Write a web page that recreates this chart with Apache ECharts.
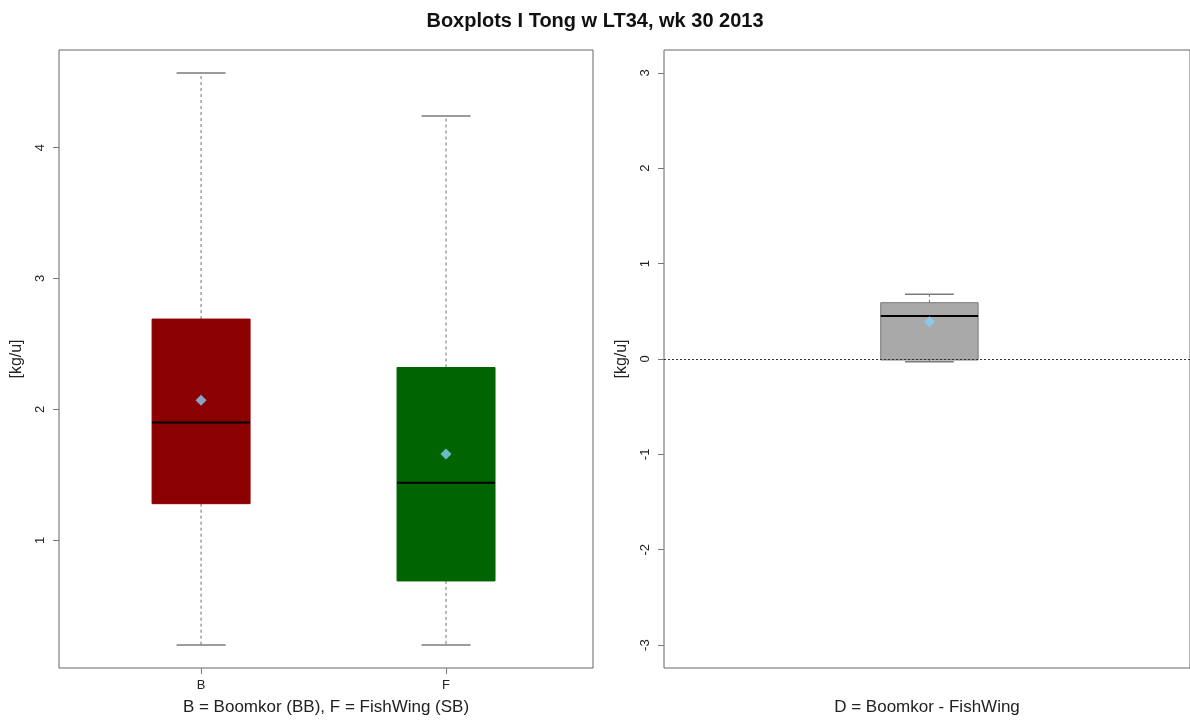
<!DOCTYPE html>
<html>
<head>
<meta charset="utf-8">
<script src="https://cdn.jsdelivr.net/npm/echarts@6/dist/echarts.min.js"></script>
<style>
  html, body { margin: 0; padding: 0; background: #fff; }
  #chart { width: 1190px; height: 722px; }
</style>
</head>
<body>
<div id="chart"></div>
<script>
// Catch per gear (kg/u), week 30 2013
const groupLabels = ['B', 'F'];
const groupPositions = [1, 2];
const whiskerLow = [0.20, 0.20];
const quartile1 = [1.28, 0.69];
const medians = [1.90, 1.44];
const quartile3 = [2.69, 2.32];
const whiskerHigh = [4.57, 4.24];
const means = [2.07, 1.66];

// Difference Boomkor - FishWing
const diffPositions = [1];
const diffWhiskerLow = [-0.03];
const diffQuartile1 = [-0.01];
const diffMedian = [0.45];
const diffQuartile3 = [0.59];
const diffWhiskerHigh = [0.68];
const diffMean = [0.39];

const leftTicks = [1, 2, 3, 4];
const rightTicks = [-3, -2, -1, 0, 1, 2, 3];

const boxFills = ['#8b0000', '#006400'];
const diffFill = '#a9a9a9';
const textColor = '#222';
const font = 'Liberation Sans, Arial, sans-serif';

function boxRows(pos, lo, q1, med, q3, hi) {
  return pos.map((p, i) => [p, lo[i], q1[i], med[i], q3[i], hi[i]]);
}

function makeBoxRenderer(boxHalf, capHalf, fills, borders) {
  return function (params, api) {
    const x = api.value(0);
    const lo = api.coord([x, api.value(1)]);
    const q1 = api.coord([x, api.value(2)]);
    const med = api.coord([x, api.value(3)]);
    const q3 = api.coord([x, api.value(4)]);
    const hi = api.coord([x, api.value(5)]);
    const bw = api.size([boxHalf, 0])[0];
    const cw = api.size([capHalf, 0])[0];
    const cx = q1[0];
    const fill = fills[params.dataIndex % fills.length];
    const border = borders[params.dataIndex % borders.length];
    const whisker = { stroke: '#6e6e6e', lineWidth: 1, lineDash: [3, 3] };
    const cap = { stroke: '#7a7a7a', lineWidth: 1.5 };
    return {
      type: 'group',
      children: [
        { type: 'line', shape: { x1: cx, y1: q3[1], x2: cx, y2: hi[1] }, style: whisker },
        { type: 'line', shape: { x1: cx, y1: q1[1], x2: cx, y2: lo[1] }, style: whisker },
        { type: 'line', shape: { x1: cx - cw, y1: hi[1], x2: cx + cw, y2: hi[1] }, style: cap },
        { type: 'line', shape: { x1: cx - cw, y1: lo[1], x2: cx + cw, y2: lo[1] }, style: cap },
        { type: 'rect', shape: { x: cx - bw, y: q3[1], width: 2 * bw, height: q1[1] - q3[1] },
          style: { fill: fill, stroke: border, lineWidth: 1 } },
        { type: 'line', shape: { x1: cx - bw, y1: med[1], x2: cx + bw, y2: med[1] },
          style: { stroke: '#000', lineWidth: 2 } }
      ]
    };
  };
}

const chart = echarts.init(document.getElementById('chart'), null, { renderer: 'canvas' });

const yAxisCommon = {
  type: 'value',
  name: '[kg/u]',
  nameLocation: 'middle',
  nameGap: 34,
  nameRotate: 90,
  nameTextStyle: { color: textColor, fontSize: 16, fontFamily: font },
  axisLine: { show: false },
  splitLine: { show: false },
  axisTick: { show: true, length: 6, lineStyle: { color: '#777' } },
  axisLabel: { rotate: 90, margin: 12, color: textColor, fontSize: 13, fontFamily: font }
};

chart.setOption({
  animation: false,
  backgroundColor: '#fff',
  title: {
    text: 'Boxplots I Tong w LT34, wk 30 2013',
    left: 'center',
    top: 6,
    textStyle: { fontFamily: font, fontWeight: 'bold', fontSize: 20, color: '#111' }
  },
  grid: [
    { left: 59, top: 50, width: 534, height: 618, show: true, borderColor: '#666', borderWidth: 1, backgroundColor: 'transparent' },
    { left: 664, top: 50, width: 530, height: 618, show: true, borderColor: '#666', borderWidth: 1, backgroundColor: 'transparent' }
  ],
  xAxis: [
    {
      type: 'value', gridIndex: 0, min: 0.42, max: 2.60,
      name: 'B = Boomkor (BB), F = FishWing (SB)',
      nameLocation: 'middle', nameGap: 31,
      nameTextStyle: { color: textColor, fontSize: 17, fontFamily: font },
      axisLine: { show: false }, splitLine: { show: false },
      axisTick: { show: true, length: 6, customValues: groupPositions, lineStyle: { color: '#777' } },
      axisLabel: {
        customValues: groupPositions, margin: 11, color: textColor, fontSize: 13, fontFamily: font,
        formatter: v => groupLabels[groupPositions.indexOf(v)] || ''
      }
    },
    {
      type: 'value', gridIndex: 1, min: 0.455, max: 1.535,
      name: 'D = Boomkor - FishWing',
      nameLocation: 'middle', nameGap: 31,
      nameTextStyle: { color: textColor, fontSize: 17, fontFamily: font },
      axisLine: { show: false }, splitLine: { show: false },
      axisTick: { show: false }, axisLabel: { show: false }
    }
  ],
  yAxis: [
    Object.assign({}, yAxisCommon, {
      gridIndex: 0, min: 0.025, max: 4.745,
      axisTick: Object.assign({}, yAxisCommon.axisTick, { customValues: leftTicks }),
      axisLabel: Object.assign({}, yAxisCommon.axisLabel, { customValues: leftTicks })
    }),
    Object.assign({}, yAxisCommon, {
      gridIndex: 1, min: -3.24, max: 3.24,
      axisTick: Object.assign({}, yAxisCommon.axisTick, { customValues: rightTicks }),
      axisLabel: Object.assign({}, yAxisCommon.axisLabel, { customValues: rightTicks })
    })
  ],
  series: [
    {
      type: 'custom', xAxisIndex: 0, yAxisIndex: 0,
      renderItem: makeBoxRenderer(0.2, 0.1, boxFills, boxFills),
      data: boxRows(groupPositions, whiskerLow, quartile1, medians, quartile3, whiskerHigh),
      z: 2
    },
    {
      type: 'scatter', xAxisIndex: 0, yAxisIndex: 0,
      symbol: 'diamond', symbolSize: 11,
      itemStyle: { color: '#87cefa' },
      data: groupPositions.map((p, i) => [p, means[i]]),
      z: 5
    },
    {
      type: 'custom', xAxisIndex: 1, yAxisIndex: 1,
      renderItem: makeBoxRenderer(0.1, 0.05, [diffFill], ['#777']),
      data: boxRows(diffPositions, diffWhiskerLow, diffQuartile1, diffMedian, diffQuartile3, diffWhiskerHigh),
      markLine: {
        silent: true, symbol: 'none', label: { show: false },
        lineStyle: { color: '#333', type: [2, 2], width: 1 },
        data: [{ yAxis: 0 }]
      },
      z: 2
    },
    {
      type: 'scatter', xAxisIndex: 1, yAxisIndex: 1,
      symbol: 'diamond', symbolSize: 11,
      itemStyle: { color: '#87cefa' },
      data: diffPositions.map((p, i) => [p, diffMean[i]]),
      z: 5
    }
  ]
});
</script>
</body>
</html>
